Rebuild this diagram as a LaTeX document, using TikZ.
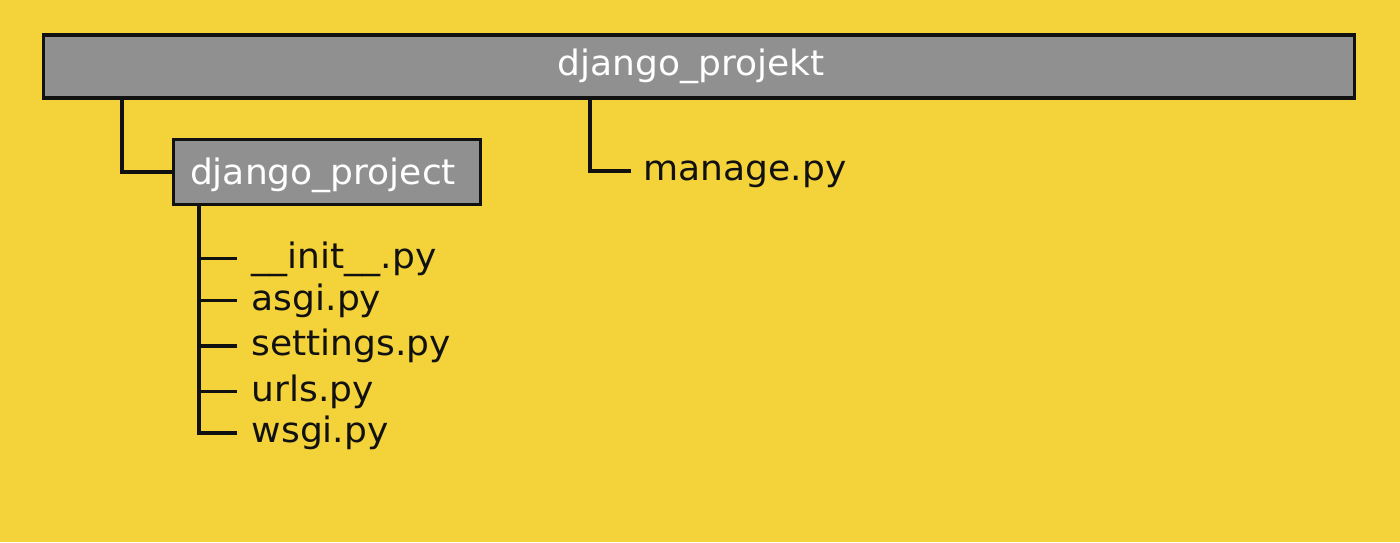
\documentclass[tikz,border=0pt]{standalone}
\usepackage{fontspec}
\setmainfont{DejaVu Sans}[FakeStretch=1.03]
\definecolor{bgyellow}{HTML}{F3D23A}
\definecolor{boxgray}{HTML}{909090}
\definecolor{ink}{HTML}{111111}
\begin{document}
\fontsize{35}{40}\selectfont
\begin{tikzpicture}[x=1pt,y=-1pt,
  line width=3.5pt,
  dirbox/.style={draw=ink,fill=boxgray,inner sep=0pt},
  dirlabel/.style={text=white,inner sep=0pt,anchor=mid},
  filelabel/.style={text=ink,inner ysep=0pt,anchor=mid west},
  conn/.style={draw=ink,line width=3.5pt}]
\fill[bgyellow] (0,0) rectangle (1400,542);
\useasboundingbox (0,0) rectangle (1400,542);

% top directory box
\node[dirbox,minimum width=1311pt,minimum height=63pt] (top) at (699,66.5) {};
\node[dirlabel] (toptext) at (691,66.4) {django\_projekt};

% sub directory box
\node[dirbox,minimum width=307pt,minimum height=65pt] (sub) at (327,172) {};
\node[dirlabel] (subtext) at (323,175.4) {django\_project};

% manage.py
\node[filelabel,inner xsep=11pt] (manage) at (631,171) {manage.py};

% files
\node[filelabel,inner xsep=13pt] (f1) at (237,258.5) {\_\_init\_\_.py};
\node[filelabel,inner xsep=13pt] (f2) at (237,300.5) {asgi.py};
\node[filelabel,inner xsep=13pt] (f3) at (237,346) {settings.py};
\node[filelabel,inner xsep=13pt] (f4) at (237,391.5) {urls.py};
\node[filelabel,inner xsep=13pt] (f5) at (237,433) {wsgi.py};

% connector coordinates
\coordinate (csub) at (122,99);
\coordinate (cman) at (590,99);
\coordinate (cfiles) at (199,206);

\draw[conn] (top.south -| csub) |- (sub.west);
\draw[conn] (top.south -| cman) |- (manage.mid west);
\draw[conn] (sub.south -| cfiles) -- (cfiles |- f5.mid west) -- (f5.mid west);
\foreach \f in {f1,f2,f3,f4}{
  \draw[conn] (cfiles |- \f.mid west) -- (\f.mid west);
}
\end{tikzpicture}
\end{document}
